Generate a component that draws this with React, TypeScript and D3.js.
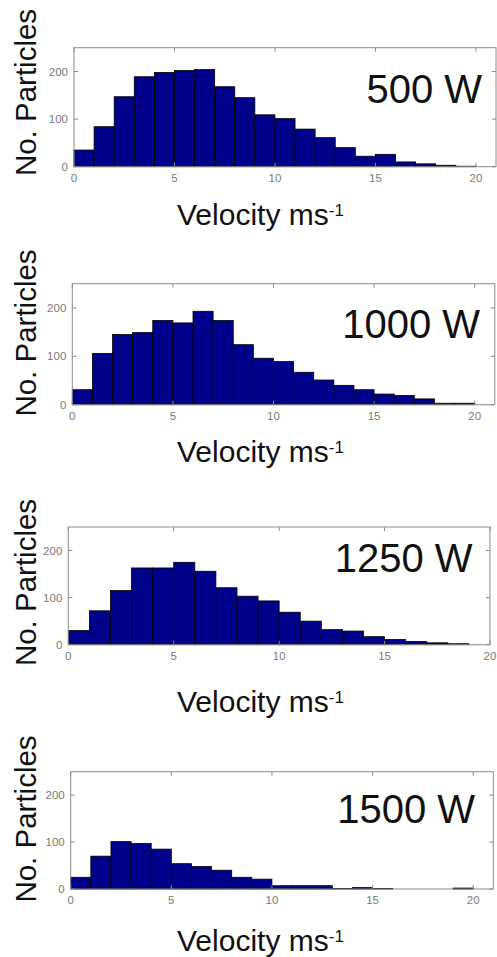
import React from "react";
import * as d3 from "d3";

// Bin counts (bins of width 1 ms^-1, starting at 0)
const counts500 = [35, 84, 147, 189, 198, 202, 204, 168, 145, 109, 101, 79, 61, 40, 22, 26, 10, 6, 3, 1];
const counts1000 = [31, 106, 145, 149, 174, 169, 193, 174, 124, 96, 89, 67, 51, 40, 31, 22, 19, 12, 3, 3];
const counts1250 = [30, 72, 115, 163, 163, 175, 156, 121, 103, 93, 69, 50, 32, 29, 17, 11, 7, 4, 2, 0];
const counts1500 = [25, 70, 101, 97, 85, 54, 48, 40, 25, 21, 7, 7, 7, 1, 3, 1, 0, 0, 0, 2];

const powerLabels = ["500 W", "1000 W", "1250 W", "1500 W"];
const xTicks = [0, 5, 10, 15, 20];
const yTicks = [0, 100, 200];
const xMax = [21, 21, 20, 21];
const yMax = 250;

// layout of each panel (pixels)
const layouts = [
  { left: 74, right: 496, top: 47.7, bottom: 166.7, yLabelCy: 92.5, xLabelY: 225, pX: 482, pY: 102.5 },
  { left: 72.3, right: 494.8, top: 283.7, bottom: 404.7, yLabelCy: 333, xLabelY: 462, pX: 480, pY: 338.3 },
  { left: 68.3, right: 490, top: 527, bottom: 644.7, yLabelCy: 582.5, xLabelY: 712, pX: 472.5, pY: 571.7 },
  { left: 70.7, right: 493.3, top: 771.7, bottom: 889, yLabelCy: 819, xLabelY: 951, pX: 475, pY: 823.3 },
];

const allCounts = [counts500, counts1000, counts1250, counts1500];

const FONT = "'Liberation Sans', Arial, Helvetica, sans-serif";
const BAR_FILL = "#00008a";
const AXIS = "#8a8a8a";
const TICK_TEXT = "#7a7a7a";

function Panel({ idx }: { idx: number }) {
  const L = layouts[idx];
  const data = allCounts[idx];
  const x = d3.scaleLinear().domain([0, xMax[idx]]).range([L.left, L.right]);
  const y = d3.scaleLinear().domain([0, yMax]).range([L.bottom, L.top]);
  const tl = 4;
  return (
    <g>
      {data.map((v, i) =>
        v > 0 ? (
          <rect
            key={i}
            x={x(i)}
            y={y(v)}
            width={x(i + 1) - x(i)}
            height={y(0) - y(v)}
            fill={BAR_FILL}
            stroke="#000"
            strokeWidth={0.8}
          />
        ) : null
      )}
      <rect x={L.left} y={L.top} width={L.right - L.left} height={L.bottom - L.top} fill="none" stroke={AXIS} strokeWidth={1} />
      {xTicks.map((t) => (
        <g key={"x" + t}>
          <line x1={x(t)} x2={x(t)} y1={L.bottom} y2={L.bottom - tl} stroke={AXIS} />
          <line x1={x(t)} x2={x(t)} y1={L.top} y2={L.top + tl} stroke={AXIS} />
          <text x={x(t)} y={L.bottom + 15} textAnchor="middle" fontSize={11.5} fill={TICK_TEXT} fontFamily={FONT}>
            {t}
          </text>
        </g>
      ))}
      {yTicks.map((t) => (
        <g key={"y" + t}>
          <line x1={L.left} x2={L.left + tl} y1={y(t)} y2={y(t)} stroke={AXIS} />
          <line x1={L.right} x2={L.right - tl} y1={y(t)} y2={y(t)} stroke={AXIS} />
          <text x={L.left - 6} y={y(t) + 4} textAnchor="end" fontSize={11.5} fill={TICK_TEXT} fontFamily={FONT}>
            {t}
          </text>
        </g>
      ))}
      <text
        transform={`translate(36,${L.yLabelCy}) rotate(-90)`}
        textAnchor="middle"
        fontSize={29.5}
        fill="#111"
        fontFamily={FONT}
      >
        No. Particles
      </text>
      <text x={177} y={L.xLabelY} fontSize={30} fill="#111" fontFamily={FONT}>
        Velocity ms
        <tspan fontSize={17} dy={-9}>
          -1
        </tspan>
      </text>
      <text x={L.pX} y={L.pY} textAnchor="end" fontSize={40} fill="#111" fontFamily={FONT}>
        {powerLabels[idx]}
      </text>
    </g>
  );
}

export default function App() {
  return (
    <svg
      width={497}
      height={957}
      style={{ position: "absolute", left: 0, top: 0, background: "#fff" }}
    >
      <rect x={0} y={0} width={497} height={957} fill="#fff" />
      {layouts.map((_, i) => (
        <Panel key={i} idx={i} />
      ))}
    </svg>
  );
}
